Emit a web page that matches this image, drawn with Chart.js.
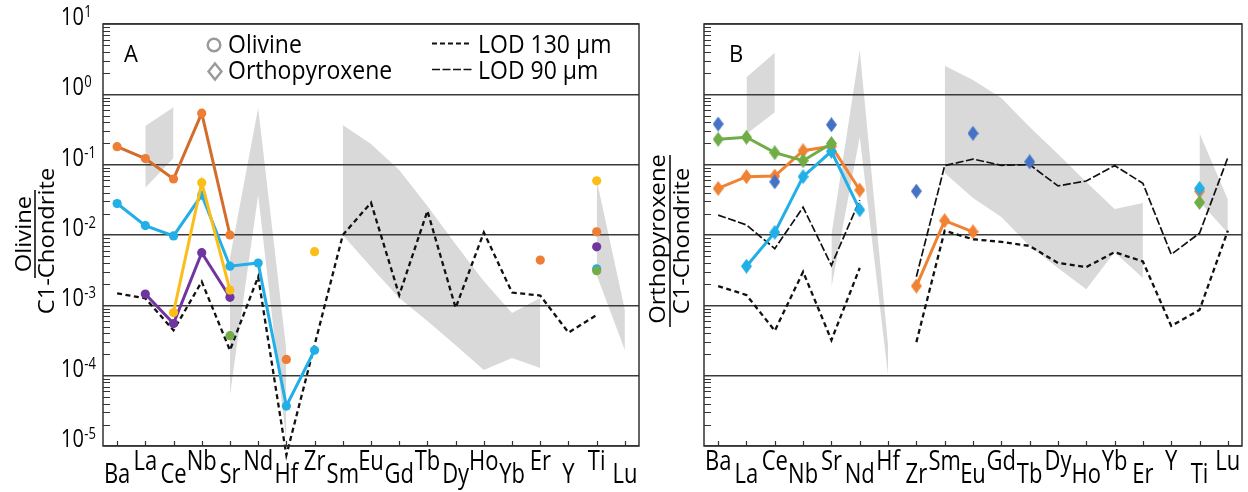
<!DOCTYPE html>
<html lang="en">
<head>
<meta charset="UTF-8" />
<title>Olivine / Orthopyroxene C1-Chondrite normalised</title>
<script src="https://cdn.jsdelivr.net/npm/chart.js"></script>
<style>
  body { margin: 0; background: #fff; }
  .wrap { position: relative; width: 1248px; height: 492px; }
  canvas { position: absolute; left: 0; top: 0; }
</style>
</head>
<body>
<div class="wrap">
  <canvas id="chartA" width="1248" height="492"></canvas>
  <canvas id="chartB" width="1248" height="492"></canvas>
</div>
<script>
const _ = null;
const elements = ['Ba','La','Ce','Nb','Sr','Nd','Hf','Zr','Sm','Eu','Gd','Tb','Dy','Ho','Yb','Er','Y','Ti','Lu'];

// ---- panel A: olivine ----               Ba      La      Ce      Nb      Sr      Nd      Hf      Zr      Sm     Eu      Gd      Tb      Dy      Ho      Yb      Er      Y       Ti      Lu
const olOrange  = [0.18,   0.122,  0.0625, 0.54,   0.0100, _,      1.7e-4, _,      _,     _,      _,      _,      _,      _,      _,      4.4e-3, _,      0.0111, _];
const olBlue    = [0.028,  0.0136, 0.0097, 0.037,  3.6e-3, 4.0e-3, 3.7e-5, 2.3e-4, _,     _,      _,      _,      _,      _,      _,      _,      _,      3.3e-3, _];
const olYellow  = [_,      _,      7.9e-4, 0.0555, 1.65e-3,_,      _,      5.8e-3, _,     _,      _,      _,      _,      _,      _,      _,      _,      0.059,  _];
const olPurple  = [_,      1.45e-3,5.5e-4, 5.6e-3, 1.3e-3, _,      _,      _,      _,     _,      _,      _,      _,      _,      _,      _,      _,      6.8e-3, _];
const olGreen   = [_,      _,      _,      _,      3.7e-4, _,      _,      _,      _,     _,      _,      _,      _,      _,      _,      _,      _,      3.1e-3, _];
const olLod130  = [1.48e-3,1.26e-3,4.4e-4, 2.17e-3,2.3e-4, 2.55e-3,7.4e-6, _,      0.010, 0.0288, 1.4e-3, 0.022,  9.2e-4, 0.0109, 1.52e-3,1.38e-3,4.1e-4, 7.3e-4, _];
// grey ranges (upper / lower)
const olLaCeHi  = [_,      0.355,  0.655,  _,      _,      _,      _,      _,      _,     _,      _,      _,      _,      _,      _,      _,      _,      _,      _];
const olLaCeLo  = [_,      0.047,  0.124,  _,      _,      _,      _,      _,      _,     _,      _,      _,      _,      _,      _,      _,      _,      _,      _];
const olSpikeHi = [_,      _,      _,      _,      4.7e-3, 0.64,   2.3e-4, _,      _,     _,      _,      _,      _,      _,      _,      _,      _,      _,      _];
const olSpikeLo = [_,      _,      _,      _,      5.3e-5, 0.037,  1.14e-5,_,      _,     _,      _,      _,      _,      _,      _,      _,      _,      _,      _];
const olReeHi   = [_,      _,      _,      _,      _,      _,      _,      _,      0.366, 0.197,  0.084,  0.0258, 7.4e-3, 2.2e-3, 7.8e-4, 1.27e-3,_,      _,      _];
const olReeLo   = [_,      _,      _,      _,      _,      _,      _,      _,      0.010, 3.5e-3, 1.27e-3,6.0e-4, 2.7e-4, 1.2e-4, 1.78e-4,1.29e-4,_,      _,      _];
const olTiLuHi  = [_,      _,      _,      _,      _,      _,      _,      _,      _,     _,      _,      _,      _,      _,      _,      _,      _,      0.0605, 8.6e-4];
const olTiLuLo  = [_,      _,      _,      _,      _,      _,      _,      _,      _,     _,      _,      _,      _,      _,      _,      _,      _,      2.7e-3, 2.3e-4];

// ---- panel B: orthopyroxene ----
const opxNavy   = [0.378,  _,      0.057,  _,      0.37,   _,      _,      0.042,  _,     0.279,  _,      0.110,  _,      _,      _,      _,      _,      _,      _];
const opxGreen  = [0.229,  0.245,  0.148,  0.114,  0.20,   _,      _,      _,      _,     _,      _,      _,      _,      _,      _,      _,      _,      0.029,  _];
const opxCyan   = [_,      3.6e-3, 0.0109, 0.0675, 0.155,  0.0228, _,      _,      _,     _,      _,      _,      _,      _,      _,      _,      _,      0.046,  _];
const opxOrange = [0.046,  0.0675, 0.069,  0.158,  0.183,  0.0436, _,      1.88e-3,0.016, 0.0111, _,      _,      _,      _,      _,      _,      _,      0.042,  _];
const opxLod90  = [0.0192, 0.0139, 6.4e-3, 0.0248, 3.7e-3, 0.0314, _,      2.55e-3,0.097, 0.12,   0.098,  0.10,   0.0498, 0.0586, 0.097,  0.0543, 5.3e-3, 0.0106, 0.126];
const opxLod130 = [1.88e-3,1.4e-3, 4.35e-4,3.0e-3, 3.2e-4, 3.4e-3, _,      3.0e-4, 0.0115,8.7e-3, 8.0e-3, 7.0e-3, 4.0e-3, 3.5e-3, 5.7e-3, 4.2e-3, 5.1e-4, 8.6e-4, 0.0115];
const opxLaCeHi = [_,      1.75,   3.9,    _,      _,      _,      _,      _,      _,     _,      _,      _,      _,      _,      _,      _,      _,      _,      _];
const opxLaCeLo = [_,      0.273,  0.555,  _,      _,      _,      _,      _,      _,     _,      _,      _,      _,      _,      _,      _,      _,      _,      _];
const opxSpikeHi= [_,      _,      _,      _,      0.010,  4.27,   2.7e-4, _,      _,     _,      _,      _,      _,      _,      _,      _,      _,      _,      _];
const opxSpikeLo= [_,      _,      _,      _,      1.8e-3, 0.247,  1.02e-4,_,      _,     _,      _,      _,      _,      _,      _,      _,      _,      _,      _];
const opxReeHi  = [_,      _,      _,      _,      _,      _,      _,      _,      2.55,  1.6,    0.887,  0.343,  0.142,  0.0567, 0.0234, 0.0285, _,      _,      _];
const opxReeLo  = [_,      _,      _,      _,      _,      _,      _,      _,      0.076, 0.0336, 0.018,  7.0e-3, 3.4e-3, 1.7e-3, 5.7e-3, 2.44e-3,_,      _,      _];
const opxTiLuHi = [_,      _,      _,      _,      _,      _,      _,      _,      _,     _,      _,      _,      _,      _,      _,      _,      _,      0.279,  0.032];
const opxTiLuLo = [_,      _,      _,      _,      _,      _,      _,      _,      _,     _,      _,      _,      _,      _,      _,      _,      _,      0.030,  0.0107];

const GREY = '#d9d9d9';
const FONT = '"Open Sans", sans-serif';

function diamond(color) {
  const c = document.createElement('canvas');
  c.width = 11; c.height = 15;
  const g = c.getContext('2d');
  g.fillStyle = color;
  g.beginPath();
  g.moveTo(5.5, 0); g.lineTo(11, 7.5); g.lineTo(5.5, 15); g.lineTo(0, 7.5);
  g.closePath(); g.fill();
  return c;
}

function series(label, data, color, extra) {
  return Object.assign({
    label, data,
    borderColor: color, backgroundColor: color,
    pointBackgroundColor: color, pointBorderWidth: 0,
    pointRadius: 4.6, borderWidth: 3, fill: false, spanGaps: false
  }, extra || {});
}

function lod(label, data, dash, width, extra) {
  return Object.assign({
    label, data, borderColor: '#111', borderWidth: width, borderDash: dash,
    pointRadius: 0, fill: false
  }, extra || {});
}

function band(hi, lo) {
  return [
    { label: 'range', data: hi, borderWidth: 0, borderColor: 'rgba(0,0,0,0)', pointRadius: 0, fill: false },
    { label: 'range', data: lo, borderWidth: 0, borderColor: 'rgba(0,0,0,0)', pointRadius: 0, fill: '-1', backgroundColor: GREY }
  ];
}

function txt(ctx, s, x, y, o) {
  ctx.save();
  ctx.translate(x, y);
  if (o.rotate) ctx.rotate(o.rotate);
  ctx.scale(o.sx || 1, o.sy || 1);
  ctx.font = o.font;
  ctx.fillStyle = o.color || '#000';
  ctx.textAlign = o.align || 'left';
  ctx.textBaseline = o.baseline || 'alphabetic';
  ctx.fillText(s, 0, 0);
  ctx.restore();
}

// frame, inward ticks, staggered labels, titles, legend
const decor = {
  id: 'decor',
  afterDraw(chart, args, opts) {
    const ctx = chart.ctx, a = chart.chartArea;
    const xs = chart.scales.x, ys = chart.scales.y;
    ctx.save();
    ctx.strokeStyle = '#333';
    ctx.lineWidth = 1.5;
    ctx.strokeRect(a.left, a.top, a.right - a.left, a.bottom - a.top);

    ctx.lineWidth = 1.2;
    ctx.beginPath();
    for (let e = -5; e < 1; e++) {
      for (let k = 2; k <= 9; k++) {
        const py = Math.round(ys.getPixelForValue(k * Math.pow(10, e))) + 0.5;
        ctx.moveTo(a.left, py); ctx.lineTo(a.left + 7, py);
      }
    }
    elements.forEach((el, i) => {
      const px = Math.round(xs.getPixelForValue(i)) + 0.5;
      ctx.moveTo(px, a.bottom); ctx.lineTo(px, a.bottom - 5);
    });
    ctx.stroke();

    elements.forEach((el, i) => {
      const high = i % 2 === opts.highParity;
      txt(ctx, el, xs.getPixelForValue(i), a.bottom + (high ? 24 : 37),
        { font: '22px ' + FONT, sy: 1.2, align: 'center' });
    });

    if (opts.yLabels) {
      for (let e = -5; e <= 1; e++) {
        const py = ys.getPixelForValue(Math.pow(10, e)) + 1;
        txt(ctx, '10', 61, py, { font: '20px ' + FONT, sy: 1.3 });
        ctx.font = '20px ' + FONT;
        const w = ctx.measureText('10').width;
        txt(ctx, String(e), 61 + w + 0.5, py - 8, { font: '13px ' + FONT, sy: 1.25 });
      }
    }

    // panel letter
    txt(ctx, opts.letter, opts.letterX, 62, { font: '22px ' + FONT, sy: 1.1 });

    // y title as fraction
    const t = opts.title;
    txt(ctx, opts.mineral, t.top, t.cy, { font: '22px ' + FONT, rotate: -Math.PI / 2, sx: 1.08, align: 'center', baseline: 'middle' });
    txt(ctx, 'C1-Chondrite', t.bottom, 241, { font: '22px ' + FONT, rotate: -Math.PI / 2, sx: 1.08, align: 'center', baseline: 'middle' });
    ctx.strokeStyle = '#111';
    ctx.lineWidth = 1.6;
    ctx.beginPath();
    ctx.moveTo(t.line, t.y0); ctx.lineTo(t.line, t.y1);
    ctx.stroke();

    if (opts.legend) {
      ctx.strokeStyle = '#9a9a9a';
      ctx.lineWidth = 2.4;
      ctx.beginPath(); ctx.arc(214, 45, 6.3, 0, Math.PI * 2); ctx.stroke();
      ctx.beginPath();
      ctx.moveTo(215, 63.5); ctx.lineTo(221.5, 71.5); ctx.lineTo(215, 79.5); ctx.lineTo(208.5, 71.5);
      ctx.closePath(); ctx.stroke();
      txt(ctx, 'Olivine', 228, 53, { font: '23px ' + FONT, sy: 1.08 });
      txt(ctx, 'Orthopyroxene', 228, 79, { font: '23px ' + FONT, sy: 1.08 });

      ctx.strokeStyle = '#111';
      ctx.lineWidth = 2;
      ctx.setLineDash([5, 3]);
      ctx.beginPath(); ctx.moveTo(432, 43.5); ctx.lineTo(470, 43.5); ctx.stroke();
      ctx.lineWidth = 1.7;
      ctx.setLineDash([8, 2.5]);
      ctx.beginPath(); ctx.moveTo(432, 69.5); ctx.lineTo(472, 69.5); ctx.stroke();
      ctx.setLineDash([]);
      txt(ctx, 'LOD 130 \u00b5m', 478, 53, { font: '23px ' + FONT, sy: 1.08 });
      txt(ctx, 'LOD 90 \u00b5m', 478, 79, { font: '23px ' + FONT, sy: 1.08 });
    }
    ctx.restore();
  }
};

function isDecade(v) {
  const l = Math.log10(v);
  return Math.abs(l - Math.round(l)) < 1e-6;
}

function makeOptions(padding, decorOpts) {
  return {
    responsive: false,
    animation: false,
    events: [],
    devicePixelRatio: 1,
    layout: { padding },
    plugins: {
      legend: { display: false },
      tooltip: { enabled: false },
      filler: { drawTime: 'beforeDraw' },
      decor: decorOpts
    },
    elements: { line: { tension: 0 } },
    scales: {
      x: {
        type: 'category', offset: true,
        grid: { display: false, drawTicks: false },
        border: { display: false },
        ticks: { display: false }
      },
      y: {
        type: 'logarithmic', min: 1e-5, max: 10,
        grid: { drawTicks: false, lineWidth: 1.4, color: c => isDecade(c.tick.value) ? '#3a3a3a' : 'rgba(0,0,0,0)' },
        border: { display: false },
        ticks: { display: false, autoSkip: false }
      }
    }
  };
}

new Chart(document.getElementById('chartA'), {
  type: 'line',
  data: {
    labels: elements,
    datasets: [
      series('yellow', olYellow, '#fbbd18'),
      series('orange', olOrange, '#d26d2b', { pointBackgroundColor: '#ee7d35' }),
      series('purple', olPurple, '#7036a0'),
      series('green', olGreen, '#72ad4a'),
      series('blue', olBlue, '#22aee6'),
      lod('LOD 130', olLod130, [5, 3.5], 2.3, { spanGaps: true, clip: false }),
      ...band(olLaCeHi, olLaCeLo),
      ...band(olSpikeHi, olSpikeLo),
      ...band(olReeHi, olReeLo),
      ...band(olTiLuHi, olTiLuLo)
    ]
  },
  options: makeOptions({ left: 103, right: 609, top: 24, bottom: 46 }, {
    highParity: 1, yLabels: true, legend: true, letter: 'A', letterX: 124,
    mineral: 'Olivine',
    title: { top: 25, bottom: 48, cy: 234, line: 35, y0: 190, y1: 278 }
  }),
  plugins: [decor]
});

new Chart(document.getElementById('chartB'), {
  type: 'line',
  data: {
    labels: elements,
    datasets: [
      series('navy', opxNavy, '#4472c4', { showLine: false, pointStyle: diamond('#4472c4') }),
      series('green', opxGreen, '#70ad47', { pointStyle: diamond('#70ad47') }),
      series('cyan', opxCyan, '#22aee6', { pointStyle: diamond('#22aee6') }),
      series('orange', opxOrange, '#f08234', { pointStyle: diamond('#f08234') }),
      lod('LOD 90', opxLod90, [8, 2.5], 1.7),
      lod('LOD 130', opxLod130, [5, 3.5], 2.3),
      ...band(opxLaCeHi, opxLaCeLo),
      ...band(opxSpikeHi, opxSpikeLo),
      ...band(opxReeHi, opxReeLo),
      ...band(opxTiLuHi, opxTiLuLo)
    ]
  },
  options: makeOptions({ left: 704, right: 6, top: 24, bottom: 46 }, {
    highParity: 0, yLabels: false, legend: false, letter: 'B', letterX: 729,
    mineral: 'Orthopyroxene',
    title: { top: 659, bottom: 683, cy: 239, line: 670, y0: 155, y1: 327 }
  }),
  plugins: [decor]
});
</script>
</body>
</html>
